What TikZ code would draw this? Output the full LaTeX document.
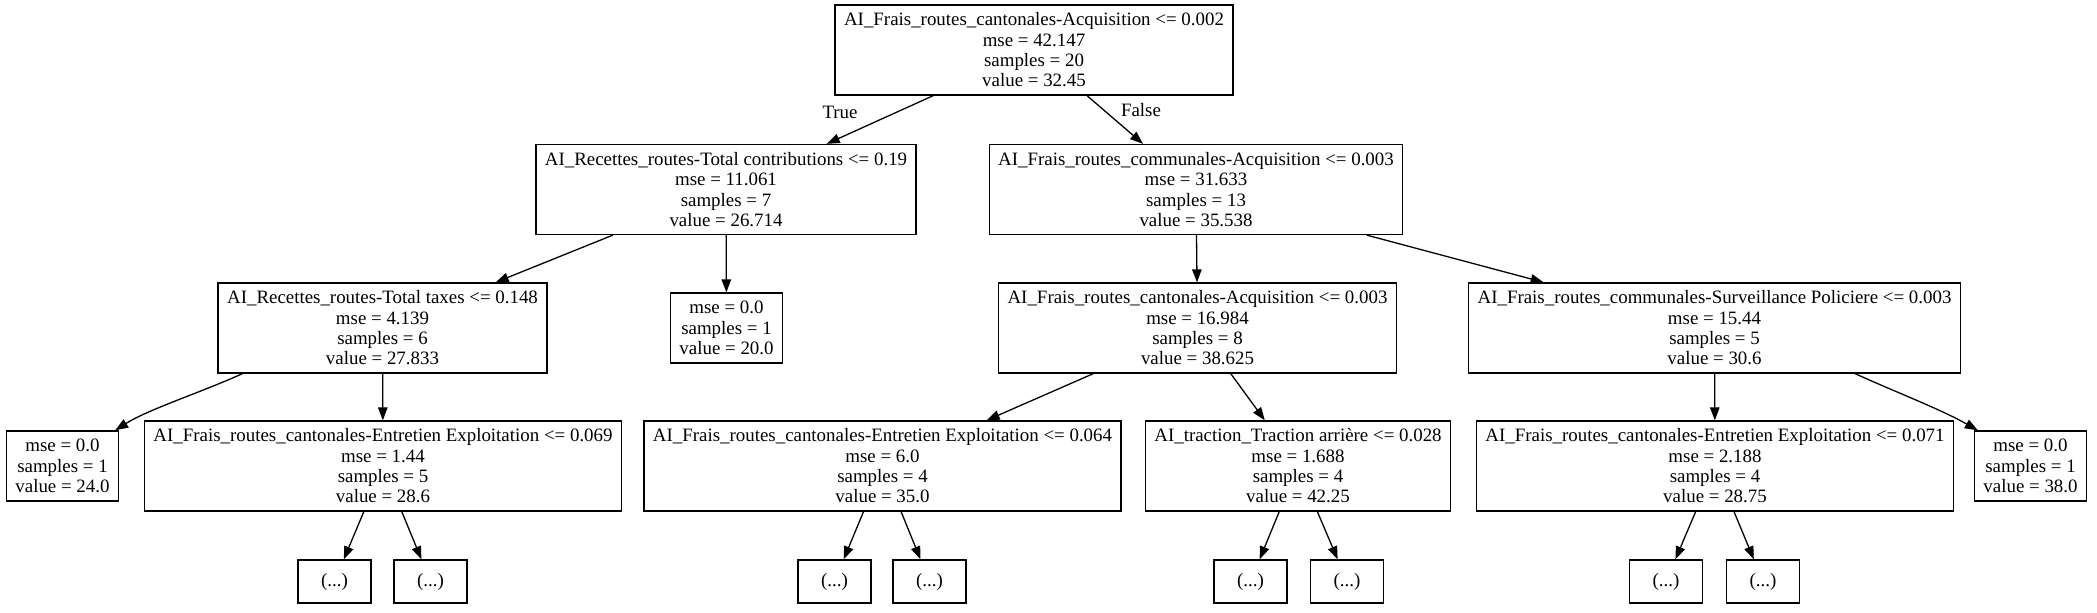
\documentclass[tikz,border=0pt]{standalone}
\usepackage{fontspec}
\setmainfont{Liberation Serif}
\usetikzlibrary{arrows.meta,calc}

\begin{document}
\begin{tikzpicture}[x=0.5pt,y=-0.5pt,
        font=\fontsize{9.45pt}{10.15pt}\selectfont,
        splitbox/.style={draw,line width=0.65pt,align=center,inner xsep=4.5pt,inner ysep=0pt,minimum height=45pt},
        leafbox/.style={splitbox,minimum height=35pt},
        morebox/.style={draw,line width=0.65pt,minimum width=36.5pt,minimum height=21.5pt,inner sep=0pt},
        branch/.style={line width=0.65pt,-{Triangle[length=6.5pt,width=4.75pt]}}]
        \useasboundingbox (0,0) rectangle (2097,613);

        % Radice
        \node[splitbox] (root) at (1034,50) {AI\_Frais\_routes\_cantonales-Acquisition <= 0.002\\mse = 42.147\\samples = 20\\value = 32.45};
        \node (lbltrue) at (840,112) {True};
        \node (lblfalse) at (1141,110) {False};

        % Primo livello
        \node[splitbox] (l1) at (726,189.5) {AI\_Recettes\_routes-Total contributions <= 0.19\\mse = 11.061\\samples = 7\\value = 26.714};
        \node[splitbox] (r1) at (1196,189.5) {AI\_Frais\_routes\_communales-Acquisition <= 0.003\\mse = 31.633\\samples = 13\\value = 35.538};

        % Secondo livello
        \node[splitbox] (l2) at (382.5,328) {AI\_Recettes\_routes-Total taxes <= 0.148\\mse = 4.139\\samples = 6\\value = 27.833};
        \node[leafbox] (leafa) at (726.5,328) {mse = 0.0\\samples = 1\\value = 20.0};
        \node[splitbox] (r2) at (1197.5,328) {AI\_Frais\_routes\_cantonales-Acquisition <= 0.003\\mse = 16.984\\samples = 8\\value = 38.625};
        \node[splitbox] (r3) at (1714.5,328) {AI\_Frais\_routes\_communales-Surveillance Policiere <= 0.003\\mse = 15.44\\samples = 5\\value = 30.6};

        % Terzo livello
        \node[leafbox] (leafb) at (62.5,466) {mse = 0.0\\samples = 1\\value = 24.0};
        \node[splitbox] (l3) at (383,466) {AI\_Frais\_routes\_cantonales-Entretien Exploitation <= 0.069\\mse = 1.44\\samples = 5\\value = 28.6};
        \node[splitbox] (r2a) at (882.5,466) {AI\_Frais\_routes\_cantonales-Entretien Exploitation <= 0.064\\mse = 6.0\\samples = 4\\value = 35.0};
        \node[splitbox] (r2b) at (1298,466) {AI\_traction\_Traction arrière <= 0.028\\mse = 1.688\\samples = 4\\value = 42.25};
        \node[splitbox] (r3a) at (1715,466) {AI\_Frais\_routes\_cantonales-Entretien Exploitation <= 0.071\\mse = 2.188\\samples = 4\\value = 28.75};
        \node[leafbox] (leafc) at (2030.5,466) {mse = 0.0\\samples = 1\\value = 38.0};

        % Rami tagliati
        \node[morebox] (d1) at (334.5,581.5) {(...)};
        \node[morebox] (d2) at (430.5,581.5) {(...)};
        \node[morebox] (d3) at (834.5,581.5) {(...)};
        \node[morebox] (d4) at (929.5,581.5) {(...)};
        \node[morebox] (d5) at (1250.5,581.5) {(...)};
        \node[morebox] (d6) at (1347,581.5) {(...)};
        \node[morebox] (d7) at (1666,581.5) {(...)};
        \node[morebox] (d8) at (1763,581.5) {(...)};

        % Archi
        \draw[branch] (root) -- (l1);
        \draw[branch] (root) -- (r1);
        \draw[branch] (l1) -- (l2);
        \draw[branch] (l1) -- (leafa);
        \draw[branch] (r1) -- (r2);
        \draw[branch] (r1) -- (r3);
        \draw[branch] ($(l2.south west)+(25,0)$) .. controls +(-42,19) and +(33,-21) .. ($(leafb.north east)+(-4,0)$);
        \draw[branch] (l2) -- (l3);
        \draw[branch] (r2) -- (r2a);
        \draw[branch] (r2) -- (r2b);
        \draw[branch] (r3) -- (r3a);
        \draw[branch] ($(r3.south east)+(-106,0)$) .. controls +(42,19) and +(-37,-21) .. ($(leafc.north west)+(4,0)$);
        \draw[branch] (l3) -- (d1);
        \draw[branch] (l3) -- (d2);
        \draw[branch] (r2a) -- (d3);
        \draw[branch] (r2a) -- (d4);
        \draw[branch] (r2b) -- (d5);
        \draw[branch] (r2b) -- (d6);
        \draw[branch] (r3a) -- (d7);
        \draw[branch] (r3a) -- (d8);
\end{tikzpicture}
\end{document}
